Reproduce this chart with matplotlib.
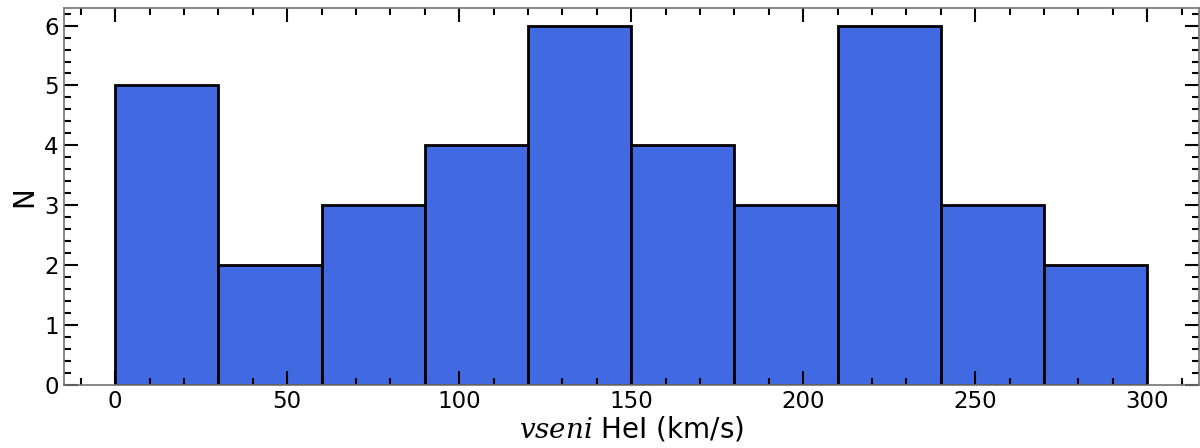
import matplotlib
matplotlib.use("Agg")
import matplotlib.pyplot as plt
from matplotlib.ticker import MultipleLocator
import numpy as np

# histogram of v sin i from HeI lines
bin_edges = [0, 30, 60, 90, 120, 150, 180, 210, 240, 270, 300]
counts = [5, 2, 3, 4, 6, 4, 3, 6, 3, 2]

plt.rcParams['mathtext.fontset'] = 'dejavuserif'

fig = plt.figure(figsize=(12, 4.48), dpi=100)
ax = fig.add_axes([0.053, 0.141, 0.946, 0.842])

edges = np.array(bin_edges)
ax.hist(edges[:-1], bins=edges, weights=counts, color='royalblue',
        edgecolor='black', linewidth=2)

ax.set_xlim(-15, 315)
ax.set_ylim(0, 6.3)
ax.xaxis.set_major_locator(MultipleLocator(50))
ax.xaxis.set_minor_locator(MultipleLocator(10))
ax.yaxis.set_major_locator(MultipleLocator(1))
ax.yaxis.set_minor_locator(MultipleLocator(0.2))
ax.tick_params(which='both', direction='in', top=True, right=True,
               color='black', labelsize=16.5)
ax.tick_params(which='major', length=10, width=1.5)
ax.tick_params(which='minor', length=5, width=1.5)
for s in ax.spines.values():
    s.set_color('0.45')
    s.set_linewidth(1.2)

ax.set_xlabel(r'$vseni$ HeI (km/s)', fontsize=20, labelpad=1)
ax.set_ylabel('N', fontsize=20, labelpad=4)

fig.savefig('out.png', dpi=100)
